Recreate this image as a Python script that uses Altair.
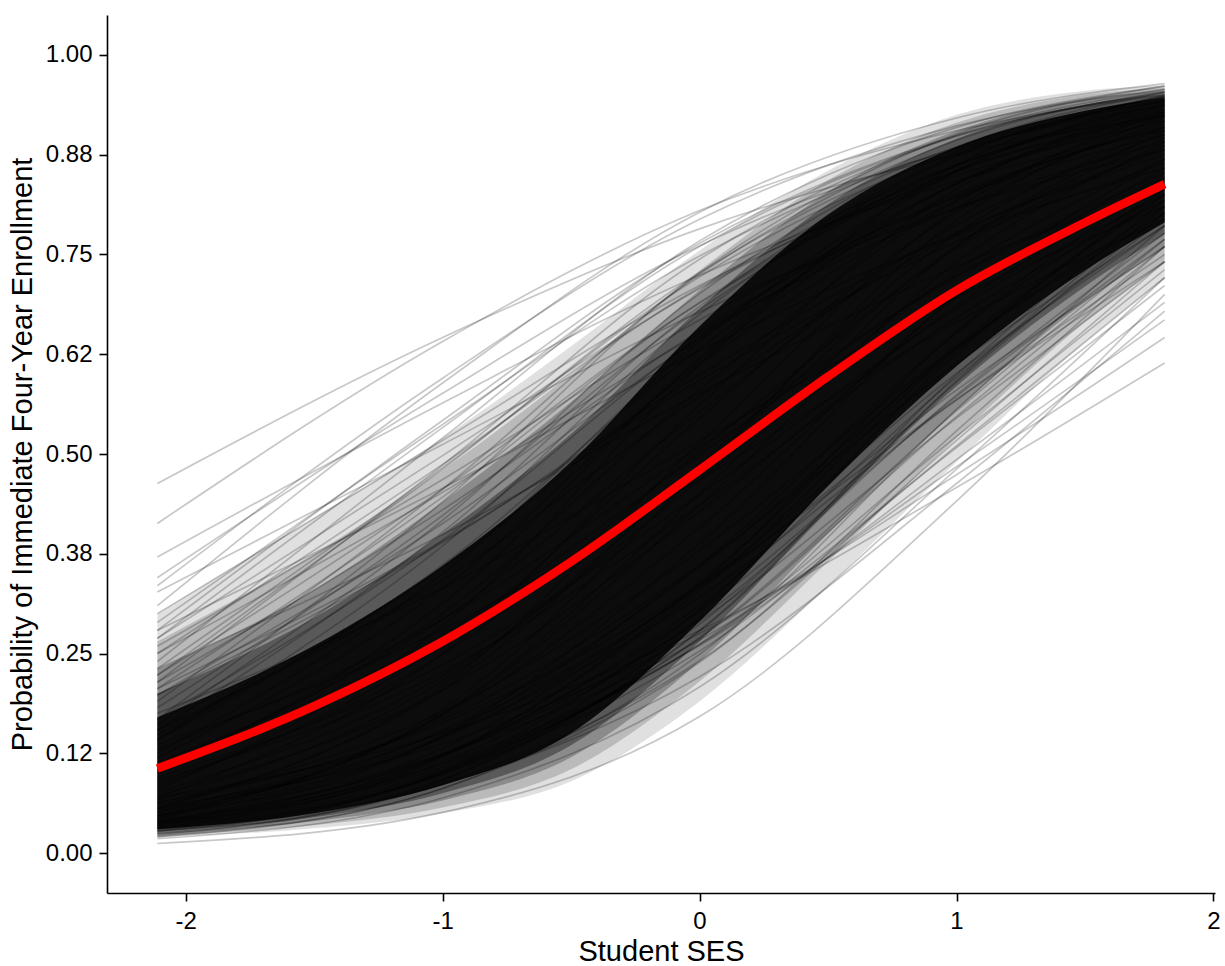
import altair as alt
import pandas as pd

# SES positions at which each school curve is read
ses_points = [-2.11, -1.0, 0.0, 1.0, 1.81]

# Individual school curves (probability at each of ses_points)
upper_fringe_curves = [
    (0.463, 0.646, 0.782, 0.875, 0.924),
    (0.413, 0.641, 0.805, 0.905, 0.950),
    (0.371, 0.564, 0.724, 0.842, 0.905),
    (0.345, 0.576, 0.761, 0.882, 0.937),
    (0.335, 0.595, 0.794, 0.911, 0.957),
    (0.327, 0.512, 0.678, 0.808, 0.881),
    (0.310, 0.589, 0.803, 0.921, 0.964),
    (0.300, 0.517, 0.711, 0.849, 0.917),
    (0.289, 0.537, 0.748, 0.884, 0.943),
    (0.279, 0.457, 0.629, 0.774, 0.858),
    (0.269, 0.533, 0.760, 0.898, 0.953),
    (0.259, 0.468, 0.668, 0.822, 0.900),
    (0.250, 0.487, 0.709, 0.862, 0.931),
    (0.240, 0.520, 0.767, 0.909, 0.961),
    (0.231, 0.399, 0.576, 0.735, 0.832),
    (0.223, 0.481, 0.727, 0.885, 0.948),
    (0.214, 0.430, 0.654, 0.826, 0.909),
    (0.206, 0.446, 0.690, 0.861, 0.934),
    (0.198, 0.389, 0.599, 0.778, 0.875),
    (0.190, 0.456, 0.725, 0.893, 0.955),
]

upper_transition_curves = [
    (0.269, 0.498, 0.707, 0.855, 0.924),
    (0.231, 0.483, 0.722, 0.878, 0.943),
    (0.214, 0.486, 0.744, 0.899, 0.957),
    (0.182, 0.423, 0.681, 0.862, 0.937),
    (0.198, 0.413, 0.644, 0.823, 0.909),
    (0.168, 0.440, 0.727, 0.901, 0.961),
    (0.250, 0.452, 0.651, 0.808, 0.891),
    (0.279, 0.542, 0.764, 0.899, 0.953),
    (0.154, 0.402, 0.685, 0.875, 0.948),
    (0.223, 0.456, 0.689, 0.854, 0.928),
    (0.142, 0.361, 0.632, 0.839, 0.928),
    (0.206, 0.391, 0.592, 0.766, 0.864),
]

inner_curves = [
    (0.168, 0.392, 0.647, 0.839, 0.924),
    (0.154, 0.342, 0.572, 0.775, 0.881),
    (0.142, 0.385, 0.675, 0.873, 0.948),
    (0.130, 0.293, 0.509, 0.722, 0.846),
    (0.119, 0.332, 0.617, 0.839, 0.931),
    (0.109, 0.293, 0.553, 0.787, 0.900),
    (0.100, 0.313, 0.620, 0.854, 0.943),
    (0.091, 0.227, 0.436, 0.671, 0.818),
    (0.083, 0.261, 0.545, 0.803, 0.917),
    (0.076, 0.222, 0.467, 0.729, 0.870),
    (0.069, 0.250, 0.562, 0.832, 0.937),
    (0.063, 0.177, 0.379, 0.634, 0.802),
    (0.057, 0.205, 0.486, 0.776, 0.909),
    (0.052, 0.172, 0.408, 0.696, 0.858),
    (0.047, 0.174, 0.436, 0.740, 0.891),
    (0.043, 0.180, 0.478, 0.793, 0.924),
    (0.039, 0.147, 0.388, 0.699, 0.870),
    (0.175, 0.332, 0.516, 0.696, 0.810),
    (0.161, 0.417, 0.701, 0.884, 0.953),
    (0.148, 0.357, 0.612, 0.818, 0.913),
    (0.136, 0.280, 0.468, 0.665, 0.794),
    (0.125, 0.350, 0.641, 0.855, 0.940),
    (0.114, 0.274, 0.499, 0.724, 0.852),
    (0.104, 0.300, 0.581, 0.817, 0.921),
    (0.095, 0.236, 0.449, 0.682, 0.825),
    (0.087, 0.249, 0.504, 0.757, 0.886),
    (0.079, 0.285, 0.612, 0.862, 0.950),
    (0.072, 0.204, 0.428, 0.686, 0.839),
    (0.066, 0.216, 0.483, 0.761, 0.896),
    (0.060, 0.167, 0.361, 0.613, 0.786),
    (0.055, 0.210, 0.514, 0.807, 0.928),
    (0.050, 0.154, 0.358, 0.632, 0.810),
    (0.045, 0.175, 0.450, 0.760, 0.905),
    (0.037, 0.131, 0.339, 0.636, 0.825),
]

lower_transition_curves = [
    (0.036, 0.121, 0.310, 0.596, 0.794),
    (0.028, 0.099, 0.270, 0.554, 0.769),
    (0.023, 0.093, 0.278, 0.592, 0.810),
    (0.041, 0.123, 0.291, 0.545, 0.741),
    (0.047, 0.144, 0.335, 0.601, 0.786),
    (0.031, 0.099, 0.253, 0.510, 0.721),
    (0.055, 0.152, 0.332, 0.580, 0.760),
    (0.025, 0.103, 0.305, 0.626, 0.832),
    (0.039, 0.112, 0.260, 0.493, 0.690),
    (0.063, 0.163, 0.336, 0.568, 0.741),
    (0.021, 0.081, 0.239, 0.529, 0.760),
    (0.034, 0.123, 0.329, 0.631, 0.825),
]

lower_fringe_curves = [
    (0.012, 0.051, 0.171, 0.441, 0.700),
    (0.069, 0.150, 0.279, 0.458, 0.614),
    (0.018, 0.069, 0.208, 0.481, 0.721),
    (0.024, 0.087, 0.241, 0.517, 0.741),
    (0.020, 0.081, 0.249, 0.556, 0.786),
    (0.027, 0.086, 0.221, 0.463, 0.679),
    (0.029, 0.101, 0.269, 0.547, 0.760),
    (0.022, 0.091, 0.279, 0.599, 0.818),
    (0.032, 0.104, 0.262, 0.522, 0.731),
    (0.036, 0.108, 0.261, 0.508, 0.711),
    (0.027, 0.101, 0.287, 0.590, 0.802),
    (0.039, 0.124, 0.303, 0.572, 0.769),
    (0.047, 0.124, 0.267, 0.484, 0.668),
    (0.031, 0.120, 0.336, 0.653, 0.846),
    (0.052, 0.146, 0.321, 0.568, 0.750),
    (0.043, 0.146, 0.361, 0.652, 0.832),
    (0.057, 0.137, 0.275, 0.474, 0.646),
    (0.034, 0.114, 0.294, 0.574, 0.777),
]

# Extent of the densely overplotted region, from its faint edge (1) to the black core (5)
band_ses = [-2.11, -1.5, -1.0, -0.5, 0.0, 0.5, 1.0, 1.5, 1.81]
band1_lo = [0.020, 0.031, 0.050, 0.090, 0.190, 0.335, 0.490, 0.640, 0.720]
band1_hi = [0.300, 0.420, 0.520, 0.635, 0.755, 0.855, 0.925, 0.955, 0.962]
band2_lo = [0.022, 0.035, 0.057, 0.105, 0.215, 0.365, 0.520, 0.665, 0.740]
band2_hi = [0.265, 0.375, 0.480, 0.600, 0.730, 0.843, 0.915, 0.950, 0.959]
band3_lo = [0.024, 0.040, 0.066, 0.120, 0.240, 0.400, 0.555, 0.690, 0.758]
band3_hi = [0.230, 0.330, 0.440, 0.565, 0.705, 0.828, 0.905, 0.945, 0.955]
band4_lo = [0.027, 0.045, 0.075, 0.135, 0.265, 0.430, 0.585, 0.710, 0.775]
band4_hi = [0.200, 0.295, 0.400, 0.525, 0.682, 0.813, 0.895, 0.938, 0.951]
band5_lo = [0.030, 0.050, 0.085, 0.150, 0.290, 0.460, 0.610, 0.730, 0.790]
band5_hi = [0.170, 0.260, 0.360, 0.490, 0.660, 0.800, 0.885, 0.930, 0.947]
band_opacity = [0.12, 0.17, 0.25, 0.36, 0.86]

# Average curve (red)
mean_prob = [0.106, 0.184, 0.265, 0.365, 0.480, 0.597, 0.705, 0.790, 0.838]

# Axis ticks
x_tick_values = [-2, -1, 0, 1, 2]
x_tick_labels = ["-2", "-1", "0", "1", "2"]
y_tick_values = [0, 0.125, 0.25, 0.375, 0.5, 0.625, 0.75, 0.875, 1.0]
y_tick_labels = ["0.00", "0.12", "0.25", "0.38", "0.50", "0.62", "0.75", "0.88", "1.00"]

# ---- build tables ----
rows = []
cid = 0
for group in (upper_fringe_curves, upper_transition_curves, inner_curves,
              lower_transition_curves, lower_fringe_curves):
    for curve in group:
        for s, p in zip(ses_points, curve):
            rows.append({"curve": cid, "ses": s, "prob": p})
        cid += 1
curves_df = pd.DataFrame(rows)

bands = [
    (band1_lo, band1_hi), (band2_lo, band2_hi), (band3_lo, band3_hi),
    (band4_lo, band4_hi), (band5_lo, band5_hi),
]
mean_df = pd.DataFrame({"ses": band_ses, "prob": mean_prob})

FONT = "Liberation Sans"

x_lab = "[" + ",".join("'%s'" % t for t in x_tick_labels) + "][round(datum.value) + 2]"
y_lab = "[" + ",".join("'%s'" % t for t in y_tick_labels) + "][round(datum.value * 8)]"

x_scale = alt.Scale(domain=[-2.306, 2.006], nice=False, zero=False)
y_scale = alt.Scale(domain=[-0.05, 1.05], nice=False, zero=False)

axis_common = dict(
    grid=False, domainColor="black", domainWidth=1.6, tickColor="black",
    tickWidth=1.6, tickSize=8, labelFont=FONT, labelFontSize=24,
    labelColor="black", titleFont=FONT, titleFontSize=29,
    titleFontWeight="normal", titleColor="black",
)

x_enc = alt.X("ses:Q", scale=x_scale, title="Student SES",
              axis=alt.Axis(values=x_tick_values, labelExpr=x_lab, labelPadding=8,
                            titlePadding=4, **axis_common))
y_enc = alt.Y("prob:Q", scale=y_scale, title="Probability of Immediate Four-Year Enrollment",
              axis=alt.Axis(values=y_tick_values, labelExpr=y_lab, labelPadding=7,
                            titlePadding=8, **axis_common))

band_layers = []
for (lo, hi), op in zip(bands, band_opacity):
    df = pd.DataFrame({"ses": band_ses, "lo": lo, "hi": hi})
    band_layers.append(
        alt.Chart(df).mark_area(color="black", opacity=op, interpolate="monotone").encode(
            x=alt.X("ses:Q", scale=x_scale),
            y=alt.Y("lo:Q", scale=y_scale),
            y2="hi:Q",
        )
    )

lines = alt.Chart(curves_df).mark_line(
    color="black", opacity=0.22, strokeWidth=1.7, interpolate="monotone"
).encode(x=x_enc, y=y_enc, detail="curve:N")

mean_line = alt.Chart(mean_df).mark_line(
    color="#FF0000", strokeWidth=8.5, interpolate="monotone"
).encode(x=alt.X("ses:Q", scale=x_scale), y=alt.Y("prob:Q", scale=y_scale))

chart = alt.layer(
    *band_layers,
    lines,
    mean_line,
).properties(
    width=1108, height=878,
    padding={"left": 107, "top": 15, "right": 10, "bottom": 73},
    autosize="none", background="white",
).configure_view(stroke=None)

chart.save("out.html", embed_options={"renderer": "svg", "actions": False})
